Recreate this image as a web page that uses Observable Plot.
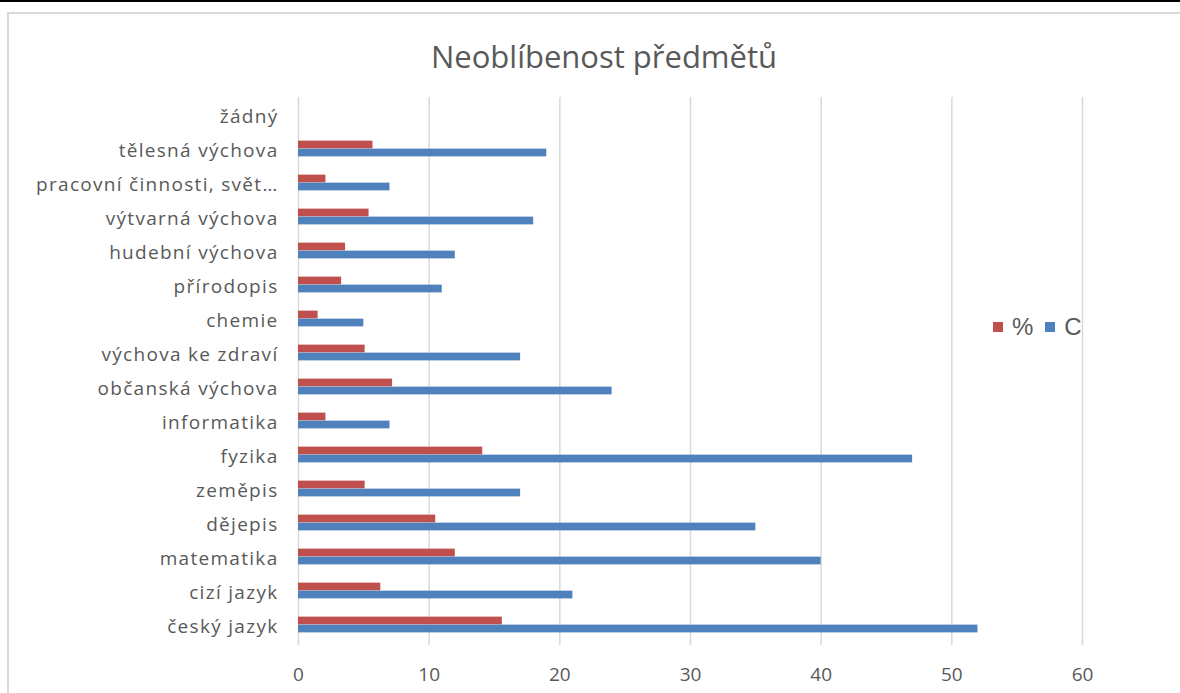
<!DOCTYPE html>
<html>
<head>
<meta charset="utf-8">
<script src="https://cdn.jsdelivr.net/npm/d3@7"></script>
<script src="https://cdn.jsdelivr.net/npm/@observablehq/plot@0.6"></script>
<style>
  html, body { margin: 0; padding: 0; background: #fff; width: 1180px; height: 693px; overflow: hidden; }
  #topband { position: absolute; left: 0; top: 0; width: 1180px; height: 2px; background: #000; }
  #frame { position: absolute; left: 7px; top: 12px; width: 1200px; height: 720px; border: 2px solid #d9d9d9; box-sizing: border-box; }
  #title { position: absolute; left: 0; width: 1208px; top: 35px; text-align: center; font-family: "Open Sans", sans-serif; font-size: 31px; color: #595959; }
  #chart { position: absolute; left: 0; top: 0; }
  #chart g[aria-label="y-axis tick label"] text { letter-spacing: 1.3px; }
  #legend { position: absolute; left: 993px; top: 313px; font-family: "Liberation Sans", Arial, sans-serif; font-size: 24px; color: #595959; display: flex; align-items: center; }
  .sw { display: inline-block; width: 10px; height: 10px; margin-right: 9px; }
  .item { display: flex; align-items: center; margin-right: 12px; }
</style>
</head>
<body>
<div id="topband"></div>
<div id="frame"></div>
<div id="chart"></div>
<div id="title">Neoblíbenost předmětů</div>
<div id="legend"></div>
<script>
const categories = [
  "žádný",
  "tělesná výchova",
  "pracovní činnosti, svět…",
  "výtvarná výchova",
  "hudební výchova",
  "přírodopis",
  "chemie",
  "výchova ke zdraví",
  "občanská výchova",
  "informatika",
  "fyzika",
  "zeměpis",
  "dějepis",
  "matematika",
  "cizí jazyk",
  "český jazyk"
];
const countC = [0, 19, 7, 18, 12, 11, 5, 17, 24, 7, 47, 17, 35, 40, 21, 52];
const percent = [0, 5.7, 2.1, 5.4, 3.6, 3.3, 1.5, 5.1, 7.2, 2.1, 14.1, 5.1, 10.5, 12.0, 6.3, 15.6];
const seriesNames = ["%", "C"];
const seriesColors = ["#C0504D", "#4F81BD"];
const xTicks = [0, 10, 20, 30, 40, 50, 60];

const rows = categories.map((c, i) => ({cat: c, pct: percent[i], c: countC[i]}));

const W = 1180, H = 693;
const mTop = 97, mBottom = H - 645, mLeft = 298, mRight = W - 1082;
const band = (H - mTop - mBottom) / categories.length;
const mid = band / 2 - 1.5;
const barH = 8;

const chart = Plot.plot({
  width: W,
  height: H,
  marginTop: mTop,
  marginBottom: mBottom,
  marginLeft: mLeft,
  marginRight: mRight,
  style: {fontFamily: "Open Sans, sans-serif", color: "#595959", background: "transparent"},
  x: {domain: [0, 60], ticks: xTicks, label: null},
  y: {domain: categories, padding: 0, label: null},
  marks: [
    Plot.gridX(xTicks, {stroke: "#d9d9d9", strokeOpacity: 1, strokeWidth: 1.5}),
    Plot.barX(rows, {x: "pct", y: "cat", fill: seriesColors[0], insetTop: mid - barH, insetBottom: band - mid}),
    Plot.barX(rows, {x: "c", y: "cat", fill: seriesColors[1], insetTop: mid, insetBottom: band - mid - barH}),
    Plot.axisX({ticks: xTicks, tickSize: 0, tickPadding: 22, fontSize: 19, fill: "#595959", label: null}),
    Plot.axisY({tickSize: 0, tickPadding: 20, fontSize: 19, fill: "#595959", label: null})
  ]
});
document.getElementById("chart").appendChild(chart);

const legend = document.getElementById("legend");
seriesNames.forEach((n, i) => {
  const it = document.createElement("span");
  it.className = "item";
  const sw = document.createElement("span");
  sw.className = "sw";
  sw.style.background = seriesColors[i];
  it.appendChild(sw);
  it.appendChild(document.createTextNode(n));
  legend.appendChild(it);
});
</script>
</body>
</html>
